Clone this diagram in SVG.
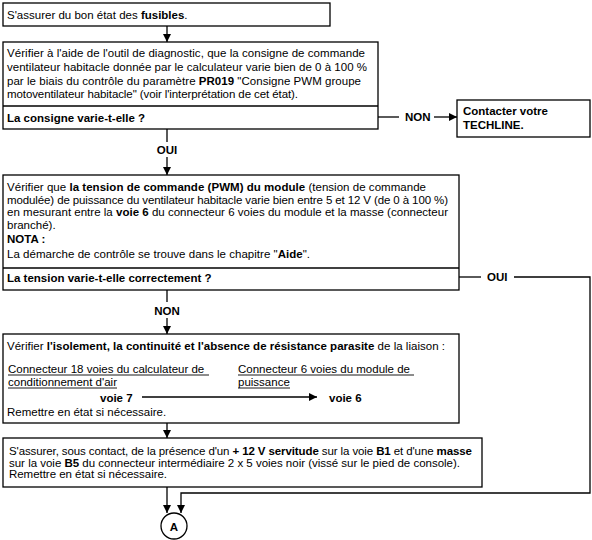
<svg xmlns="http://www.w3.org/2000/svg" width="592" height="540" viewBox="0 0 592 540">
<style>
text{font-family:"Liberation Sans",Arial,sans-serif;font-size:11.5px;fill:#000}
.b{font-weight:bold}
.box{fill:#fff;stroke:#000;stroke-width:1.3}
.ln{fill:none;stroke:#000;stroke-width:1.3}
.ul{stroke:#000;stroke-width:0.9}
</style>
<defs>
<marker id="ah" viewBox="0 0 10 10" refX="10" refY="5" markerWidth="8" markerHeight="8" markerUnits="userSpaceOnUse" orient="auto">
<path d="M0,0 L10,5 L0,10 z" fill="#000"/>
</marker>
</defs>
<rect width="592" height="540" fill="#fff"/>
<g id="connectors">
<line class="ln" x1="167" y1="26" x2="167" y2="42" marker-end="url(#ah)"/>
<line class="ln" x1="378" y1="117" x2="399" y2="117"/>
<line class="ln" x1="434" y1="117" x2="457" y2="117" marker-end="url(#ah)"/>
<text class="b" x="405" y="121">NON</text>
<line class="ln" x1="167" y1="129" x2="167" y2="142"/>
<text class="b" x="167" y="154" text-anchor="middle">OUI</text>
<line class="ln" x1="167" y1="157" x2="167" y2="175" marker-end="url(#ah)"/>
<line class="ln" x1="459" y1="277" x2="481" y2="277"/>
<text class="b" x="487" y="281">OUI</text>
<polyline class="ln" points="514,277 590,277 590,493 181,493 181,513" marker-end="url(#ah)"/>
<line class="ln" x1="167" y1="290" x2="167" y2="302"/>
<text class="b" x="167" y="315" text-anchor="middle">NON</text>
<line class="ln" x1="167" y1="318" x2="167" y2="334" marker-end="url(#ah)"/>
<line class="ln" x1="167" y1="423" x2="167" y2="438" marker-end="url(#ah)"/>
<line class="ln" x1="167" y1="487" x2="167" y2="513" marker-end="url(#ah)"/>
</g>
<g id="n1">
<rect class="box" x="3" y="3" width="327" height="23"/>
<text x="7" y="19">S'assurer du bon état des <tspan class="b">fusibles</tspan>.</text>
</g>
<g id="n2">
<rect class="box" x="3" y="42" width="375" height="87"/>
<line class="ln" x1="3" y1="106" x2="378" y2="106"/>
<text x="7" y="57" textLength="358">Vérifier à l'aide de l'outil de diagnostic, que la consigne de commande</text>
<text x="7" y="71" textLength="360">ventilateur habitacle donnée par le calculateur varie bien de 0 à 100 %</text>
<text x="7" y="85" textLength="354">par le biais du contrôle du paramètre <tspan class="b">PR019</tspan> "Consigne PWM groupe</text>
<text x="7" y="98" textLength="291">motoventilateur habitacle" (voir l'interprétation de cet état).</text>
<text class="b" x="7" y="122">La consigne varie-t-elle ?</text>
</g>
<g id="n3">
<rect class="box" x="457" y="100" width="133" height="37"/>
<text class="b" x="463" y="115">Contacter votre</text>
<text class="b" x="463" y="129">TECHLINE.</text>
</g>
<g id="n4">
<rect class="box" x="3" y="175" width="456" height="115"/>
<line class="ln" x1="3" y1="268" x2="459" y2="268"/>
<text x="7" y="191" textLength="419">Vérifier que <tspan class="b">la tension de commande (PWM) du module</tspan> (tension de commande</text>
<text x="7" y="204" textLength="441">modulée) de puissance du ventilateur habitacle varie bien entre 5 et 12 V (de 0 à 100 %)</text>
<text x="7" y="216" textLength="441">en mesurant entre la <tspan class="b">voie 6</tspan> du connecteur 6 voies du module et la masse (connecteur</text>
<text x="7" y="229">branché).</text>
<text class="b" x="7" y="243">NOTA :</text>
<text x="7" y="258" textLength="303">La démarche de contrôle se trouve dans le chapitre "<tspan class="b">Aide</tspan>".</text>
<text class="b" x="7" y="282">La tension varie-t-elle correctement ?</text>
</g>
<g id="n5">
<rect class="box" x="3" y="334" width="456" height="89"/>
<text x="7" y="350" textLength="438">Vérifier <tspan class="b">l'isolement, la continuité et l'absence de résistance parasite</tspan> de la liaison :</text>
<text x="8" y="373">Connecteur 18 voies du calculateur de</text>
<line class="ul" x1="8" y1="375" x2="209" y2="375"/>
<text x="8" y="386">conditionnement d'air</text>
<line class="ul" x1="8" y1="388" x2="117" y2="388"/>
<text x="238" y="373">Connecteur 6 voies du module de</text>
<line class="ul" x1="238" y1="375" x2="414" y2="375"/>
<text x="238" y="386">puissance</text>
<line class="ul" x1="238" y1="388" x2="290" y2="388"/>
<text class="b" x="100" y="402">voie 7</text>
<line class="ln" x1="142" y1="397" x2="317" y2="397" marker-end="url(#ah)"/>
<text class="b" x="329" y="402">voie 6</text>
<text x="7" y="416">Remettre en état si nécessaire.</text>
</g>
<g id="n6">
<rect class="box" x="3" y="438" width="479" height="49"/>
<text x="9" y="455" textLength="463">S'assurer, sous contact, de la présence d'un <tspan class="b">+ 12 V servitude</tspan> sur la voie <tspan class="b">B1</tspan> et d'une <tspan class="b">masse</tspan></text>
<text x="9" y="466.5" textLength="451">sur la voie <tspan class="b">B5</tspan> du connecteur intermédiaire 2 x 5 voies noir (vissé sur le pied de console).</text>
<text x="9" y="478" textLength="158">Remettre en état si nécessaire.</text>
</g>
<g id="n7">
<circle class="box" cx="174" cy="526" r="13"/>
<text class="b" x="174" y="531" text-anchor="middle" font-size="13">A</text>
</g>
</svg>
